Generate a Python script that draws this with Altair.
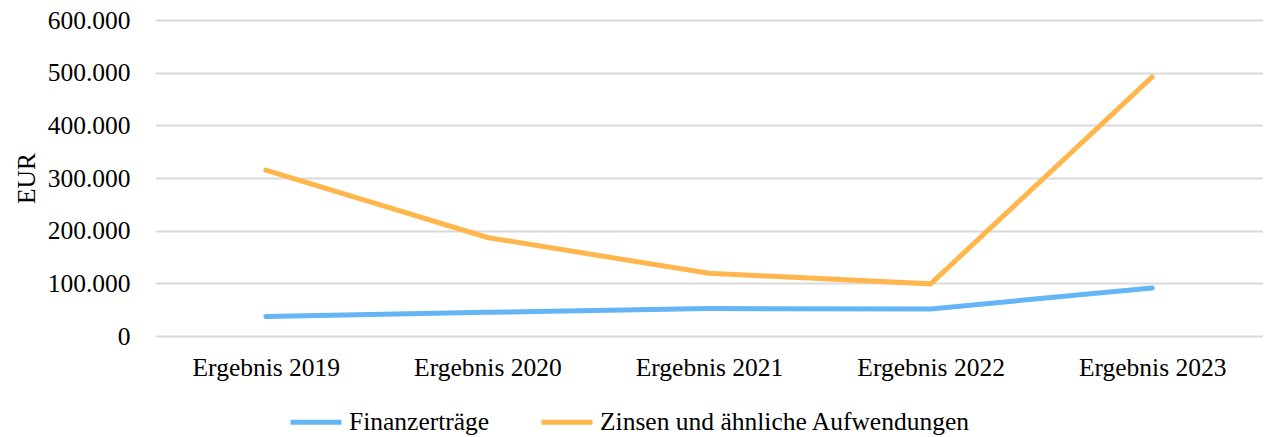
import altair as alt
import pandas as pd

categories = ["Ergebnis 2019", "Ergebnis 2020", "Ergebnis 2021", "Ergebnis 2022", "Ergebnis 2023"]
series_names = ["Finanzerträge", "Zinsen und ähnliche Aufwendungen"]
finanzertraege = [37000, 45000, 52000, 51500, 91000]
zinsen = [315000, 187000, 119000, 99000, 492000]
colors = ["#64B5F6", "#FFB74D"]

rows = []
for c, v in zip(categories, finanzertraege):
    rows.append({"Kategorie": c, "Serie": series_names[0], "Wert": v})
for c, v in zip(categories, zinsen):
    rows.append({"Kategorie": c, "Serie": series_names[1], "Wert": v})
df = pd.DataFrame(rows)

font = "Liberation Serif, Times New Roman, serif"
fs = 25.5

chart = alt.Chart(df).mark_line(strokeWidth=5, strokeCap="round", strokeJoin="miter").encode(
    x=alt.X("Kategorie:N", sort=categories, title=None,
            scale=alt.Scale(paddingInner=0, paddingOuter=0.5),
            axis=alt.Axis(labelAngle=0, ticks=False, domain=False, grid=False,
                          labelFontSize=fs, labelFont=font, labelColor="#000000",
                          labelPadding=19)),
    y=alt.Y("Wert:Q", title="EUR",
            scale=alt.Scale(domain=[0, 600000], nice=False),
            axis=alt.Axis(values=[0, 100000, 200000, 300000, 400000, 500000, 600000],
                          labelExpr="replace(format(datum.value, ','), ',', '.')",
                          ticks=False, domain=False, gridColor="#D9D9D9", gridWidth=2,
                          labelFontSize=fs, labelFont=font, labelColor="#000000",
                          labelPadding=25, titleFontSize=fs, titleFont=font,
                          titleFontWeight="normal", titleColor="#000000", titlePadding=8)),
    color=alt.Color("Serie:N", sort=series_names,
                    scale=alt.Scale(domain=series_names, range=colors),
                    legend=alt.Legend(title=None, orient="none", direction="horizontal",
                                      legendX=133, legendY=374,
                                      symbolType="stroke", symbolStrokeWidth=5, symbolSize=2600,
                                      labelFontSize=fs, labelFont=font, labelColor="#000000",
                                      labelOffset=5, columnPadding=41, labelLimit=600)),
).properties(
    width=1108, height=316,
    autosize=alt.AutoSizeParams(type="none"),
    padding={"left": 147, "top": 12, "right": 0, "bottom": 100},
).configure_view(stroke=None)

chart.save("out.html", embed_options={"renderer": "svg", "actions": False})
